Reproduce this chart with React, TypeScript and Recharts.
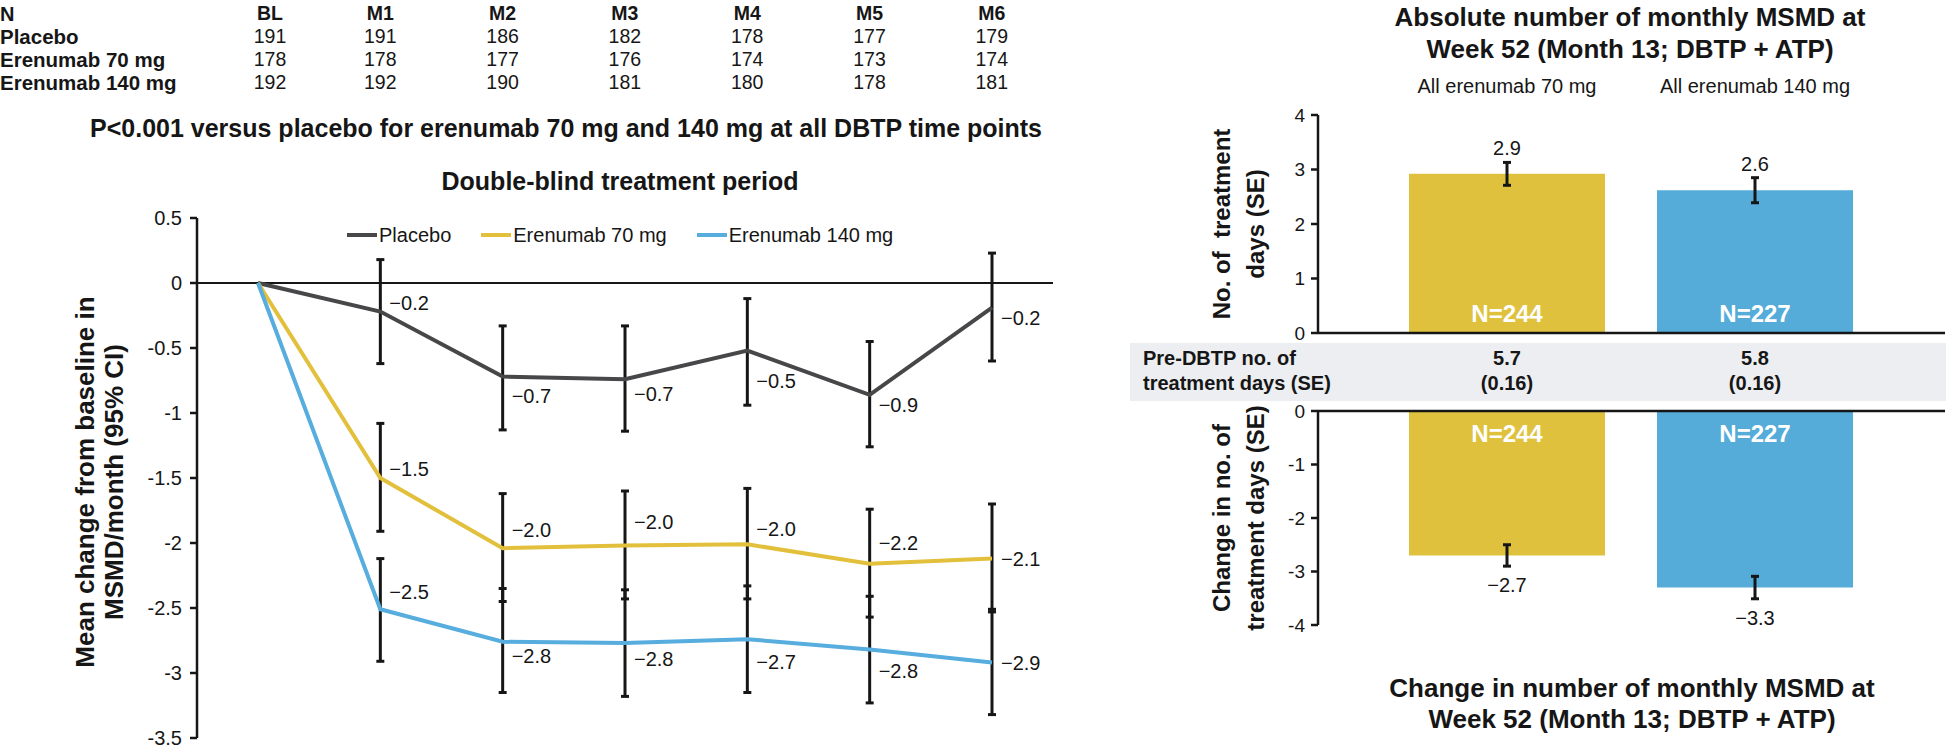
import React from "react";
import {
  LineChart,
  Line,
  XAxis,
  YAxis,
  ReferenceLine,
  ErrorBar,
  LabelList,
  Legend,
  BarChart,
  Bar,
  Cell,
} from "recharts";

const FONT = "'Liberation Sans', Arial, Helvetica, sans-serif";
const INK = "#161616";

// ---- left panel data (DBTP, mean change, 95% CI) ----
const months = ["BL", "M1", "M2", "M3", "M4", "M5", "M6"];
const placeboN = [191, 191, 186, 182, 178, 177, 179];
const e70N = [178, 178, 177, 176, 174, 173, 174];
const e140N = [192, 192, 190, 181, 180, 178, 181];

const placeboMean = [0, -0.22, -0.72, -0.74, -0.52, -0.86, -0.19];
const placeboLow = [null, -0.62, -1.13, -1.14, -0.94, -1.26, -0.6];
const placeboHigh = [null, 0.18, -0.33, -0.33, -0.12, -0.45, 0.23];

const e70Mean = [0, -1.5, -2.04, -2.02, -2.01, -2.16, -2.12];
const e70Low = [null, -1.91, -2.45, -2.43, -2.43, -2.57, -2.53];
const e70High = [null, -1.08, -1.62, -1.6, -1.58, -1.74, -1.7];

const e140Mean = [0, -2.51, -2.76, -2.77, -2.74, -2.82, -2.92];
const e140Low = [null, -2.91, -3.15, -3.18, -3.15, -3.23, -3.32];
const e140High = [null, -2.12, -2.35, -2.36, -2.33, -2.41, -2.51];

const leftTicks = [0.5, 0, -0.5, -1, -1.5, -2, -2.5, -3, -3.5];
const seriesOrder = ["Placebo", "Erenumab 70 mg", "Erenumab 140 mg"];

// label nudges (px) relative to each point
const placeboLabelDy = [0, -9, 19, 15, 30, 10, 10];
const e70LabelDy = [0, -9, -18, -24, -15, -21, 0];
const e140LabelDy = [0, -17, 14, 16, 23, 21, 0];

// ---- right panel data (week 52) ----
const groups = ["All erenumab 70 mg", "All erenumab 140 mg"];
const groupN = [244, 227];
const absMean = [2.92, 2.62];
const absSe = [0.21, 0.23];
const changeMean = [-2.7, -3.3];
const changeSe = [0.2, 0.21];
const preMean = [5.7, 5.8];
const preSe = [0.16, 0.16];
const topTicks = [0, 1, 2, 3, 4];
const bottomTicks = [0, -1, -2, -3, -4];

const GREY = "#474749";
const YELLOW = "#e2c03b";
const BLUE = "#56adde";
const barColors = ["#dfc13e", "#55acd9"];

const errPair = (m: number, lo: number | null, hi: number | null) =>
  lo == null || hi == null ? null : [m - lo, hi - m];

const lineData = months.map((m, i) => ({
  month: m,
  placebo: placeboMean[i],
  placeboErr: errPair(placeboMean[i], placeboLow[i], placeboHigh[i]),
  e70: e70Mean[i],
  e70Err: errPair(e70Mean[i], e70Low[i], e70High[i]),
  e140: e140Mean[i],
  e140Err: errPair(e140Mean[i], e140Low[i], e140High[i]),
}));

const absData = groups.map((g, i) => ({ group: g, n: groupN[i], abs: absMean[i], se: absSe[i] }));
const changeData = groups.map((g, i) => ({ group: g, n: groupN[i], chg: changeMean[i], se: changeSe[i] }));

const fmt = (v: number) => v.toFixed(1).replace("-", "\u2212");

function pointLabel(dys: number[]) {
  return (props: any) => {
    const vb = props.viewBox ?? props;
    const x = props.x ?? vb.x;
    const y = props.y ?? vb.y;
    const i = props.index;
    if (i === 0 || x == null) return null;
    return (
      <text x={x + 9} y={y + dys[i]} dominantBaseline="central" fontSize={20} fontFamily={FONT} fill={INK}>
        {fmt(Number(props.value))}
      </text>
    );
  };
}

function barBox(props: any) {
  const vb = props.viewBox ?? props;
  const x = vb.x ?? props.x;
  const y = vb.y ?? props.y;
  const w = vb.width ?? props.width;
  const h = vb.height ?? props.height;
  return { cx: x + w / 2, top: Math.min(y, y + h), bottom: Math.max(y, y + h), h: Math.abs(h) };
}

function barValueLabel(se: number[]) {
  return (props: any) => {
    const { cx, top, bottom, h } = barBox(props);
    const v = Number(props.value);
    const ppu = h / Math.abs(v);
    const e = se[props.index] * ppu;
    const ty = v >= 0 ? top - e - 14 : bottom + e + 19;
    return (
      <text x={cx} y={ty} textAnchor="middle" dominantBaseline="central" fontSize={20} fontFamily={FONT} fill={INK}>
        {fmt(v)}
      </text>
    );
  };
}

function nLabel(positive: boolean) {
  return (props: any) => {
    const { cx, top, bottom } = barBox(props);
    const ty = positive ? bottom - 20 : top + 22;
    return (
      <text x={cx} y={ty} textAnchor="middle" dominantBaseline="central" fontSize={24} fontWeight={700} fontFamily={FONT} fill="#fff">
        N={props.value}
      </text>
    );
  };
}

function LegendBox({ payload }: any) {
  const items = [...(payload || [])].sort(
    (a: any, b: any) => seriesOrder.indexOf(a.value) - seriesOrder.indexOf(b.value)
  );
  return (
    <div style={{ display: "flex", alignItems: "center", fontFamily: FONT, fontSize: 20, color: INK }}>
      {items.map((p: any) => (
        <div key={p.value} style={{ display: "flex", alignItems: "center", marginRight: 30 }}>
          <span style={{ display: "inline-block", width: 30, height: 4, background: p.color }} />
          <span style={{ marginLeft: 2, lineHeight: "24px" }}>{p.value}</span>
        </div>
      ))}
    </div>
  );
}

function Txt({ x, y, children, size = 20, bold = false, anchor = "middle", style = {} }: any) {
  const tx = anchor === "middle" ? "-50%" : anchor === "end" ? "-100%" : "0";
  return (
    <div
      style={{
        position: "absolute",
        left: x,
        top: y,
        transform: `translate(${tx}, -50%)`,
        fontFamily: FONT,
        fontSize: size,
        fontWeight: bold ? 700 : 400,
        color: INK,
        whiteSpace: "pre",
        lineHeight: 1.1,
        ...style,
      }}
    >
      {children}
    </div>
  );
}

function VText({ x, y, lines, size, gap }: any) {
  return (
    <div
      style={{
        position: "absolute",
        left: x,
        top: y,
        transform: "translate(-50%, -50%) rotate(-90deg)",
        fontFamily: FONT,
        fontSize: size,
        fontWeight: 700,
        color: INK,
        whiteSpace: "pre",
        textAlign: "center",
        lineHeight: `${gap}px`,
      }}
    >
      {lines.join("\n")}
    </div>
  );
}

const colX = (i: number) => (i === 0 ? 270 : 258 + 122.3 * i);
const tableRows: [string, number[]][] = [
  ["Placebo", placeboN],
  ["Erenumab 70 mg", e70N],
  ["Erenumab 140 mg", e140N],
];
const rowY = [14, 37, 60, 83];
const barCx = [1507, 1755];

export default function App() {
  return (
    <div style={{ position: "absolute", left: 0, top: 0, width: 1946, height: 745, background: "#fff", overflow: "hidden" }}>
      {/* N table */}
      <Txt x={0} y={rowY[0]} bold anchor="start" size={20}>N</Txt>
      {months.map((m, i) => (
        <Txt key={m} x={colX(i)} y={rowY[0]} bold size={19.5}>{m}</Txt>
      ))}
      {tableRows.map(([name, vals], r) => (
        <React.Fragment key={name}>
          <Txt x={0} y={rowY[r + 1]} bold anchor="start" size={20.5}>{name}</Txt>
          {vals.map((v, i) => (
            <Txt key={i} x={colX(i)} y={rowY[r + 1]} size={19.5}>{v}</Txt>
          ))}
        </React.Fragment>
      ))}

      <Txt x={566} y={129} bold size={25}>P&lt;0.001 versus placebo for erenumab 70 mg and 140 mg at all DBTP time points</Txt>
      <Txt x={620} y={182} bold size={25}>Double-blind treatment period</Txt>
      <VText x={100} y={482} size={26} gap={29} lines={["Mean change from baseline in", "MSMD/month (95% CI)"]} />

      <div style={{ position: "absolute", left: 0, top: 0 }}>
        <LineChart width={1100} height={745} data={lineData} margin={{ top: 218, right: 47, bottom: 7, left: 137 }}>
          <XAxis dataKey="month" hide padding={{ left: 61, right: 61 }} />
          <YAxis
            type="number"
            domain={[-3.5, 0.5]}
            ticks={leftTicks}
            interval={0}
            width={60}
            axisLine={{ stroke: INK, strokeWidth: 2.5 }}
            tickLine={{ stroke: INK, strokeWidth: 2.5 }}
            tickSize={7}
            tickMargin={8}
            tick={{ fill: INK, fontSize: 20, fontFamily: FONT }}
          />
          <ReferenceLine y={0} stroke={INK} strokeWidth={2} />
          <Legend
            layout="horizontal"
            verticalAlign="middle"
            align="center"
            wrapperStyle={{ top: 223, left: 347, width: 700 }}
            content={<LegendBox />}
          />
          <Line name="Placebo" dataKey="placebo" stroke={GREY} strokeWidth={4} dot={false} isAnimationActive={false}>
            <ErrorBar dataKey="placeboErr" direction="y" width={4} strokeWidth={3} stroke={INK} isAnimationActive={false} />
            <LabelList dataKey="placebo" content={pointLabel(placeboLabelDy)} />
          </Line>
          <Line name="Erenumab 70 mg" dataKey="e70" stroke={YELLOW} strokeWidth={4} dot={false} isAnimationActive={false}>
            <ErrorBar dataKey="e70Err" direction="y" width={4} strokeWidth={3} stroke={INK} isAnimationActive={false} />
            <LabelList dataKey="e70" content={pointLabel(e70LabelDy)} />
          </Line>
          <Line name="Erenumab 140 mg" dataKey="e140" stroke={BLUE} strokeWidth={4} dot={false} isAnimationActive={false}>
            <ErrorBar dataKey="e140Err" direction="y" width={4} strokeWidth={3} stroke={INK} isAnimationActive={false} />
            <LabelList dataKey="e140" content={pointLabel(e140LabelDy)} />
          </Line>
        </LineChart>
      </div>

      {/* right panel */}
      <Txt x={1630} y={17} bold size={26}>Absolute number of monthly MSMD at</Txt>
      <Txt x={1630} y={49} bold size={26}>Week 52 (Month 13; DBTP + ATP)</Txt>
      <VText x={1239} y={224} size={24} gap={34} lines={["No. of  treatment", "days (SE)"]} />
      <VText x={1239} y={518} size={24} gap={34} lines={["Change in no. of", "treatment days (SE)"]} />

      <div style={{ position: "absolute", left: 1130, top: 0 }}>
        <BarChart width={816} height={345} data={absData} margin={{ top: 75, right: 1, bottom: 12, left: 138 }}>
          <XAxis
            dataKey="group"
            orientation="top"
            height={40}
            padding={{ left: 65, right: 66 }}
            axisLine={false}
            tickLine={false}
            tickSize={0}
            tickMargin={22}
            interval={0}
            tick={{ fill: INK, fontSize: 20, fontFamily: FONT }}
          />
          <YAxis
            type="number"
            domain={[0, 4]}
            ticks={topTicks}
            interval={0}
            width={50}
            axisLine={{ stroke: INK, strokeWidth: 2.5 }}
            tickLine={{ stroke: INK, strokeWidth: 2.5 }}
            tickSize={7}
            tickMargin={6}
            tick={{ fill: INK, fontSize: 19, fontFamily: FONT }}
          />
          <Bar dataKey="abs" barSize={196} isAnimationActive={false}>
            {absData.map((d, i) => (
              <Cell key={d.group} fill={barColors[i]} />
            ))}
            <ErrorBar dataKey="se" direction="y" width={4} strokeWidth={3} stroke={INK} isAnimationActive={false} />
            <LabelList dataKey="abs" content={barValueLabel(absSe)} />
            <LabelList dataKey="n" content={nLabel(true)} />
          </Bar>
          <ReferenceLine y={0} stroke={INK} strokeWidth={2.5} />
        </BarChart>
      </div>

      <div style={{ position: "absolute", left: 1130, top: 343, width: 816, height: 58, background: "#eceef1" }} />
      <Txt x={1143} y={358} bold anchor="start" size={20}>Pre-DBTP no. of</Txt>
      <Txt x={1143} y={383} bold anchor="start" size={20}>treatment days (SE)</Txt>
      {preMean.map((m, i) => (
        <React.Fragment key={i}>
          <Txt x={barCx[i]} y={358} bold size={20}>{m.toFixed(1)}</Txt>
          <Txt x={barCx[i]} y={383} bold size={20}>({preSe[i].toFixed(2)})</Txt>
        </React.Fragment>
      ))}

      <div style={{ position: "absolute", left: 1130, top: 395 }}>
        <BarChart width={816} height={260} data={changeData} margin={{ top: 16, right: 1, bottom: 30, left: 138 }}>
          <XAxis dataKey="group" hide padding={{ left: 65, right: 66 }} />
          <YAxis
            type="number"
            domain={[-4, 0]}
            ticks={bottomTicks}
            interval={0}
            width={50}
            axisLine={{ stroke: INK, strokeWidth: 2.5 }}
            tickLine={{ stroke: INK, strokeWidth: 2.5 }}
            tickSize={7}
            tickMargin={6}
            tick={{ fill: INK, fontSize: 19, fontFamily: FONT }}
          />
          <Bar dataKey="chg" barSize={196} isAnimationActive={false}>
            {changeData.map((d, i) => (
              <Cell key={d.group} fill={barColors[i]} />
            ))}
            <ErrorBar dataKey="se" direction="y" width={4} strokeWidth={3} stroke={INK} isAnimationActive={false} />
            <LabelList dataKey="chg" content={barValueLabel(changeSe)} />
            <LabelList dataKey="n" content={nLabel(false)} />
          </Bar>
          <ReferenceLine y={0} stroke={INK} strokeWidth={2.5} />
        </BarChart>
      </div>

      <Txt x={1632} y={688} bold size={26}>Change in number of monthly MSMD at</Txt>
      <Txt x={1632} y={719} bold size={26}>Week 52 (Month 13; DBTP + ATP)</Txt>
    </div>
  );
}
